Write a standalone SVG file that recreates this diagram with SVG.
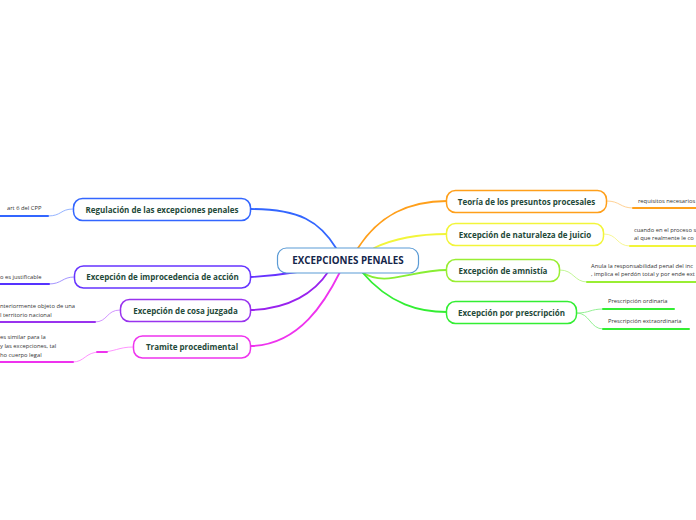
<svg xmlns="http://www.w3.org/2000/svg" width="696" height="520" viewBox="0 0 696 520">
<style>
.node rect{fill:#ffffff;stroke-width:1.5}
.lbl{font-family:"Open Sans","Noto Sans","Liberation Sans",sans-serif;font-weight:bold;font-size:8px;fill:#1f4a3a;text-anchor:middle}
.title{font-family:"Open Sans","Noto Sans","Liberation Sans",sans-serif;font-weight:bold;font-size:9.8px;fill:#14264a;text-anchor:middle}
.sub{font-family:"Open Sans","Noto Sans","Liberation Sans",sans-serif;font-size:5.8px;fill:#333333}
.c path{fill:none;stroke-linecap:round}
.main{stroke-width:1.8}
.thin{stroke-width:0.9}
.ul{stroke-width:2}
</style>
<rect width="696" height="520" fill="#ffffff"/>
<g id="connectors" class="c">
  <path class="main" d="M251,209 C300,209 320,222 336,248" stroke="#3366ff"/>
  <path class="main" d="M251,277 C270,276 285,274 297,272" stroke="#6633ff"/>
  <path class="main" d="M250,310 C290,309 315,292 328,272" stroke="#9922ee"/>
  <path class="main" d="M251,346 C300,345 326,300 340,272" stroke="#ee33ee"/>
  <path class="main" d="M358,248 C380,214 410,201 447,201" stroke="#ff9f1a"/>
  <path class="main" d="M374,248 C395,238 420,234 447,234" stroke="#f2f53a"/>
  <path class="main" d="M362,272 C385,288 410,270 447,270" stroke="#88ee33"/>
  <path class="main" d="M362,272 C390,305 420,312 447,312" stroke="#33ee33"/>
  <path class="thin" d="M48,216 C62,216 60,209 73,209" stroke="#88aaff"/>
  <path class="ul" d="M0,216 H48" stroke="#3366ff"/>
  <path class="thin" d="M49,284 C62,284 62,277 74,277" stroke="#9988ff"/>
  <path class="ul" d="M0,284 H49" stroke="#5533ff"/>
  <path class="thin" d="M95,322 C108,322 106,310 120,310" stroke="#cc88ff"/>
  <path class="ul" d="M0,322 H95" stroke="#9933ee"/>
  <path class="thin" d="M73,362 C85,362 85,352 100,352 C115,352 118,347 133,347" stroke="#ff88ff"/>
  <path d="M97,352 H107" stroke="#ee33ee" stroke-width="1.8"/>
  <path class="ul" d="M0,362 H73" stroke="#ee33ee"/>
  <path class="thin" d="M607,201 C620,201 620,208 633,208" stroke="#ffcc88"/>
  <path class="ul" d="M633,208 H696" stroke="#ff9f1a"/>
  <path class="thin" d="M604,234 C618,234 616,246 630,246" stroke="#f5f58a"/>
  <path class="ul" d="M630,246 H696" stroke="#f2f53a"/>
  <path class="thin" d="M560,270 C574,270 574,282 587,282" stroke="#bbf58a"/>
  <path class="ul" d="M587,282 H696" stroke="#99ee33"/>
  <path class="thin" d="M577,313 C590,313 590,309 603,309" stroke="#88ee88"/>
  <path class="ul" d="M603,309 H674" stroke="#33ee33"/>
  <path class="thin" d="M577,313 C590,313 590,329 603,329" stroke="#88ee88"/>
  <path class="ul" d="M603,329 H689" stroke="#33ee33"/>
</g>
<g id="central" class="node">
  <rect x="277.5" y="248" width="141" height="25" rx="9" stroke="#5b9bd5" style="stroke-width:1.2"/>
  <text class="title" x="348" y="264">EXCEPCIONES PENALES</text>
</g>
<g id="regulacion" class="node">
  <rect x="73.5" y="198.5" width="177" height="22" rx="9" stroke="#3366ff"/>
  <text class="lbl" x="162" y="212.5">Regulación de las excepciones penales</text>
</g>
<g id="improcedencia" class="node">
  <rect x="74.5" y="266" width="176" height="22" rx="9" stroke="#6633ff"/>
  <text class="lbl" x="162.5" y="280">Excepción de improcedencia de acción</text>
</g>
<g id="cosa-juzgada" class="node">
  <rect x="120.5" y="299.5" width="130" height="22" rx="9" stroke="#9933ee"/>
  <text class="lbl" x="185.5" y="313.5">Excepción de cosa juzgada</text>
</g>
<g id="tramite" class="node">
  <rect x="133.5" y="336" width="117" height="22" rx="9" stroke="#ee33ee"/>
  <text class="lbl" x="192" y="350">Tramite procedimental</text>
</g>
<g id="teoria" class="node">
  <rect x="446.5" y="190.5" width="160" height="22" rx="9" stroke="#ff9f1a"/>
  <text class="lbl" x="526.5" y="204.5">Teoría de los presuntos procesales</text>
</g>
<g id="naturaleza" class="node">
  <rect x="446.5" y="223.5" width="157" height="22" rx="9" stroke="#f2f53a"/>
  <text class="lbl" x="525" y="237.5">Excepción de naturaleza de juicio</text>
</g>
<g id="amnistia" class="node">
  <rect x="446.5" y="259.5" width="113" height="22" rx="9" stroke="#99ee33"/>
  <text class="lbl" x="503" y="273.5">Excepción de amnistía</text>
</g>
<g id="prescripcion" class="node">
  <rect x="446.5" y="301.5" width="130" height="22" rx="9" stroke="#33ee33"/>
  <text class="lbl" x="511.5" y="315.5">Excepción por prescripción</text>
</g>
<g id="sub-texts">
  <text class="sub" x="7" y="210">art 6 del CPP</text>
  <text class="sub" x="0" y="279">o es justificable</text>
  <text class="sub" x="0" y="308">nteriormente objeto de una</text>
  <text class="sub" x="0" y="316.5">l territorio nacional</text>
  <text class="sub" x="0" y="339">es similar para la</text>
  <text class="sub" x="0" y="348">y las excepciones, tal</text>
  <text class="sub" x="0" y="357">ho cuerpo legal</text>
  <text class="sub" x="638" y="203">requisitos necesarios</text>
  <text class="sub" x="634" y="232">cuando en el proceso s</text>
  <text class="sub" x="634" y="240">al que realmente le co</text>
  <text class="sub" x="591" y="268">Anula la responsabilidad penal del inc</text>
  <text class="sub" x="591" y="276">, implica el perdón total y por ende ext</text>
  <text class="sub" x="608" y="303">Prescripción ordinaria</text>
  <text class="sub" x="608" y="323">Prescripción extraordinaria</text>
</g>
</svg>
